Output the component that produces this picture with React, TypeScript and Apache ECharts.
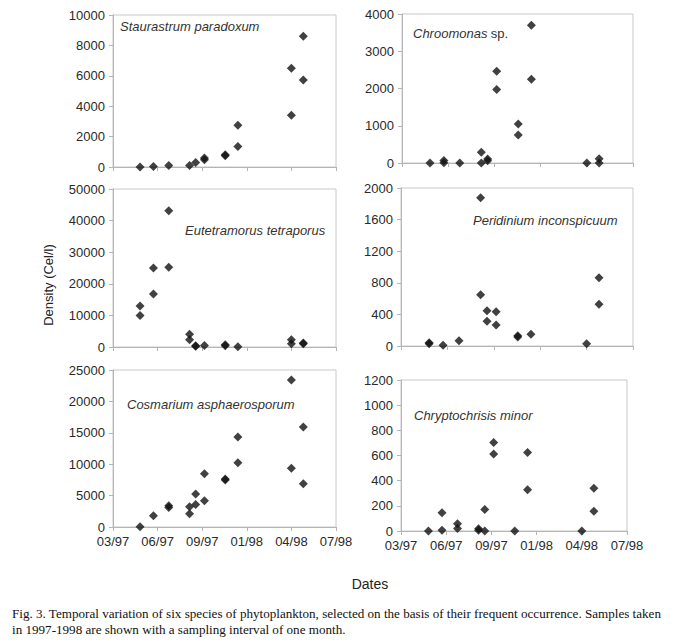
import React, { useEffect, useRef } from "react";
import * as echarts from "echarts";

// Sampling dates, in months after March 1997 (x axis: 0 = 03/97 … 15 = 07/98)
const sampleMonths = [1.82, 2.72, 3.75, 5.15, 5.56, 6.15, 7.55, 8.4, 12.0, 12.8];
const xTickLabels = ["03/97", "06/97", "09/97", "01/98", "04/98", "07/98"];

// Two samples per date (null = not distinguishable)
const staurastrumA = [0, 30, 100, 100, 300, 600, 810, 2740, 6500, 8600];
const staurastrumB = [null, null, null, null, null, 480, 740, 1350, 3400, 5730];

const chroomonasA = [0, 70, 0, 290, 110, 2460, 1045, 3700, 0, 115];
const chroomonasB = [null, 10, null, 0, 60, 1970, 750, 2250, null, 0];

const eutetramorusA = [13000, 25000, 43100, 4000, 400, 500, 700, 100, 2300, 1300];
const eutetramorusB = [10000, 16800, 25200, 2300, 200, null, 400, null, 1000, 1000];

const peridiniumA = [40, 8, 67, 1877, 447, 435, 130, 148, 30, 865];
const peridiniumB = [30, null, null, 650, 312, 266, 114, null, null, 527];

const cosmariumA = [50, 1800, 3400, 3230, 5240, 8470, 7630, 14350, 23400, 15940];
const cosmariumB = [null, null, 3100, 2120, 3600, 4180, 7470, 10220, 9370, 6890];

const chryptochrisisA = [0, 146, 58, 18, 170, 704, 0, 624, 0, 340];
const chryptochrisisB = [null, 5, 19, 5, 0, 611, null, 327, null, 157];

const yMax = [10000, 4000, 50000, 2000, 25000, 1200];
const yInterval = [2000, 1000, 10000, 400, 5000, 200];

const panels = [
  { a: staurastrumA, b: staurastrumB },
  { a: chroomonasA, b: chroomonasB },
  { a: eutetramorusA, b: eutetramorusB },
  { a: peridiniumA, b: peridiniumB },
  { a: cosmariumA, b: cosmariumB },
  { a: chryptochrisisA, b: chryptochrisisB },
];

const grids = [
  { left: 113, top: 15, width: 223, height: 152 },
  { left: 402, top: 14, width: 231, height: 149 },
  { left: 113, top: 189, width: 223, height: 158 },
  { left: 401, top: 188, width: 232, height: 158 },
  { left: 113, top: 370, width: 223, height: 157 },
  { left: 401, top: 380, width: 226, height: 151 },
];

const FONT = "'Liberation Sans', Arial, sans-serif";
const SERIF = "'Liberation Serif', 'Times New Roman', serif";

export default function App() {
  const ref = useRef<HTMLDivElement>(null);
  useEffect(() => {
    if (!ref.current) return;
    const chart = echarts.init(ref.current, undefined, { renderer: "svg" });

    const build = (vals: (number | null)[]) => {
      const out: [number, number][] = [];
      vals.forEach((v, i) => {
        if (v !== null && v !== undefined) out.push([sampleMonths[i], v]);
      });
      return out;
    };

    const xAxis = grids.map((_, i) => ({
      type: "value",
      gridIndex: i,
      min: 0,
      max: 15,
      interval: 3,
      axisLine: { show: true, lineStyle: { color: "#b5b5b5", width: 1 } },
      axisTick: { show: true, length: 4, lineStyle: { color: "#b5b5b5" } },
      splitLine: { show: false },
      axisLabel: {
        show: i >= 4,
        fontFamily: FONT,
        fontSize: 13,
        color: "#2a2a2a",
        margin: 8,
        formatter: (v: number) => xTickLabels[Math.round(v / 3)] ?? "",
      },
    }));

    const yAxis = grids.map((_, i) => ({
      type: "value",
      gridIndex: i,
      min: 0,
      max: yMax[i],
      interval: yInterval[i],
      axisLine: { show: true, lineStyle: { color: "#b5b5b5", width: 1 } },
      axisTick: { show: true, length: 4, lineStyle: { color: "#b5b5b5" } },
      splitLine: { show: false },
      axisLabel: {
        fontFamily: FONT,
        fontSize: 13,
        color: "#2a2a2a",
        margin: 8,
        formatter: (v: number) => String(v),
      },
    }));

    const series: any[] = [];
    panels.forEach((p, i) => {
      [p.a, p.b].forEach((vals) => {
        series.push({
          type: "scatter",
          xAxisIndex: i,
          yAxisIndex: i,
          data: build(vals),
          symbol: "diamond",
          symbolSize: [9, 9],
          itemStyle: { color: "#111" },
          silent: true,
        });
      });
    });

    const speciesText = (x: number, y: number, text: string) => ({
      type: "text",
      left: x,
      top: y,
      style: {
        text,
        fontFamily: FONT,
        fontSize: 13,
        fontStyle: "italic",
        fill: "#333",
      },
    });

    const graphic: any[] = [
      speciesText(120, 20, "Staurastrum paradoxum"),
      {
        type: "text",
        left: 413,
        top: 27,
        style: {
          text: "{i|Chroomonas} {n|sp.}",
          rich: {
            i: { fontFamily: FONT, fontSize: 13, fontStyle: "italic", fill: "#333" },
            n: { fontFamily: FONT, fontSize: 13, fill: "#333" },
          },
        },
      },
      speciesText(185, 224, "Eutetramorus tetraporus"),
      speciesText(473, 214, "Peridinium inconspicuum"),
      speciesText(127, 398, "Cosmarium asphaerosporum"),
      speciesText(414, 409, "Chryptochrisis minor"),
      {
        type: "text",
        x: 48,
        y: 285,
        rotation: Math.PI / 2,
        style: {
          text: "Density (Cel/l)",
          fontFamily: FONT,
          fontSize: 13,
          fill: "#222",
          textAlign: "center",
          textVerticalAlign: "middle",
        },
      },
      {
        type: "text",
        x: 370,
        y: 584,
        style: {
          text: "Dates",
          fontFamily: FONT,
          fontSize: 14,
          fill: "#222",
          textAlign: "center",
          textVerticalAlign: "middle",
        },
      },
      {
        type: "text",
        x: 12,
        y: 613,
        style: {
          text:
            "Fig. 3. Temporal variation of six species of phytoplankton, selected on the basis of their frequent occurrence. Samples taken",
          fontFamily: SERIF,
          fontSize: 13.1,
          fill: "#111",
          textVerticalAlign: "middle",
        },
      },
      {
        type: "text",
        x: 12,
        y: 629,
        style: {
          text: "in 1997-1998 are shown with a sampling interval of one month.",
          fontFamily: SERIF,
          fontSize: 13.1,
          fill: "#111",
          textVerticalAlign: "middle",
        },
      },
    ];

    chart.setOption({
      animation: false,
      backgroundColor: "#fff",
      grid: grids.map((g) => ({
        ...g,
        show: true,
        borderColor: "#c8c8c8",
        borderWidth: 1,
        backgroundColor: "transparent",
        containLabel: false,
      })),
      xAxis,
      yAxis,
      series,
      graphic,
    });
    return () => chart.dispose();
  }, []);

  return (
    <div
      ref={ref}
      style={{ position: "absolute", left: 0, top: 0, width: 684, height: 644 }}
    />
  );
}
